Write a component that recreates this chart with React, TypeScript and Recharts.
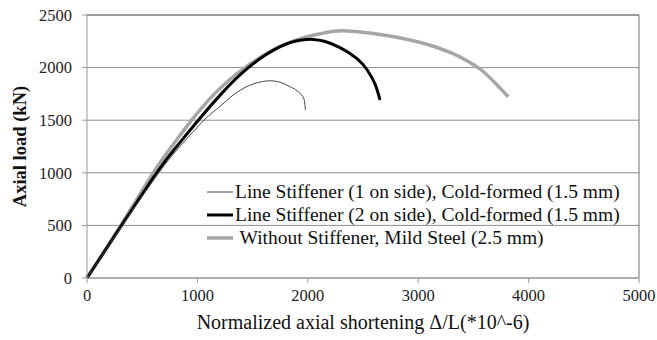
import { LineChart, Line, XAxis, YAxis, CartesianGrid, ReferenceLine } from 'recharts';

// Normalized axial shortening (x) vs axial load (kN)
const oneSideX = [0, 320, 650, 850, 1060, 1205, 1325, 1470, 1628, 1750, 1839, 1890, 1945, 1970, 1978];
const oneSideY = [0, 500, 1000, 1260, 1500, 1632, 1740, 1830, 1873, 1860, 1819, 1790, 1740, 1680, 1597];

const twoSideX = [0, 310, 631, 812, 1008, 1220, 1461, 1748, 1945, 2050, 2150, 2292, 2443, 2540, 2610, 2654];
const twoSideY = [0, 495, 1000, 1250, 1500, 1755, 2000, 2199, 2262, 2268, 2250, 2190, 2088, 1975, 1840, 1692];

const mildX = [0, 300, 601, 767, 948, 1159, 1431, 1748, 1990, 2150, 2322, 2684, 3046, 3300, 3450, 3580, 3700, 3816];
const mildY = [0, 490, 1000, 1250, 1500, 1755, 2000, 2199, 2294, 2330, 2351, 2310, 2231, 2140, 2060, 1970, 1850, 1723];

const xTicks = [0, 1000, 2000, 3000, 4000, 5000];
const yTicks = [0, 500, 1000, 1500, 2000, 2500];

const seriesNames = [
  'Line Stiffener (1 on side), Cold-formed (1.5 mm)',
  'Line Stiffener (2 on side), Cold-formed (1.5 mm)',
  ' Without Stiffener, Mild Steel (2.5 mm)',
];

const toPoints = (xs: number[], ys: number[]) => xs.map((x, i) => ({ x, y: ys[i] }));

const serif = "'Liberation Serif', 'Times New Roman', serif";

const legendStyles = [
  { stroke: '#444', width: 1 },
  { stroke: '#000', width: 3 },
  { stroke: '#a6a6a6', width: 3.5 },
];

export default function App() {
  const oneSide = toPoints(oneSideX, oneSideY);
  const twoSide = toPoints(twoSideX, twoSideY);
  const mild = toPoints(mildX, mildY);

  return (
    <div style={{ position: 'absolute', left: 0, top: 0, width: 657, height: 340, background: '#fff', fontFamily: serif }}>
      <LineChart width={657} height={340} margin={{ top: 15, right: 18, bottom: 0, left: 0 }} style={{ fontFamily: serif }}>
        <CartesianGrid horizontal vertical={false} stroke="#8c8c8c" />
        <XAxis
          dataKey="x"
          type="number"
          domain={[0, 5000]}
          ticks={xTicks}
          height={62}
          stroke="#999"
          tickSize={5}
          tickMargin={6}
          tick={{ fontSize: 16.5, fill: '#222', fontFamily: serif }}
          label={{ value: 'Normalized axial shortening Δ/L(*10^-6)', position: 'insideBottom', offset: 11, style: { fontSize: 20, fill: '#111', fontFamily: serif } }}
        />
        <YAxis
          dataKey="y"
          type="number"
          domain={[0, 2500]}
          ticks={yTicks}
          width={87}
          stroke="#999"
          tickSize={5}
          tickMargin={10}
          tick={{ fontSize: 16.5, fill: '#222', fontFamily: serif }}
          label={{ value: 'Axial load (kN)', angle: -90, position: 'insideLeft', offset: 19, style: { textAnchor: 'middle', fontSize: 18.5, fontWeight: 'bold', fill: '#111', fontFamily: serif } }}
        />
        <ReferenceLine y={2500} stroke="#6e6e6e" />
        <ReferenceLine x={5000} stroke="#6e6e6e" />
        <Line data={mild} dataKey="y" type="natural" stroke="#a6a6a6" strokeWidth={3.5} dot={false} isAnimationActive={false} />
        <Line data={twoSide} dataKey="y" type="natural" stroke="#000" strokeWidth={3} dot={false} isAnimationActive={false} />
        <Line data={oneSide} dataKey="y" type="natural" stroke="#444" strokeWidth={1} dot={false} isAnimationActive={false} />
      </LineChart>
      <div style={{ position: 'absolute', left: 205, top: 180, fontSize: 19.5, color: '#111', lineHeight: '23px' }}>
        {seriesNames.map((name, i) => (
          <div key={i} style={{ display: 'flex', alignItems: 'center', whiteSpace: 'pre' }}>
            <svg width={30} height={10}>
              <line x1={2} x2={28} y1={5} y2={5} stroke={legendStyles[i].stroke} strokeWidth={legendStyles[i].width} />
            </svg>
            <span>{name}</span>
          </div>
        ))}
      </div>
    </div>
  );
}
